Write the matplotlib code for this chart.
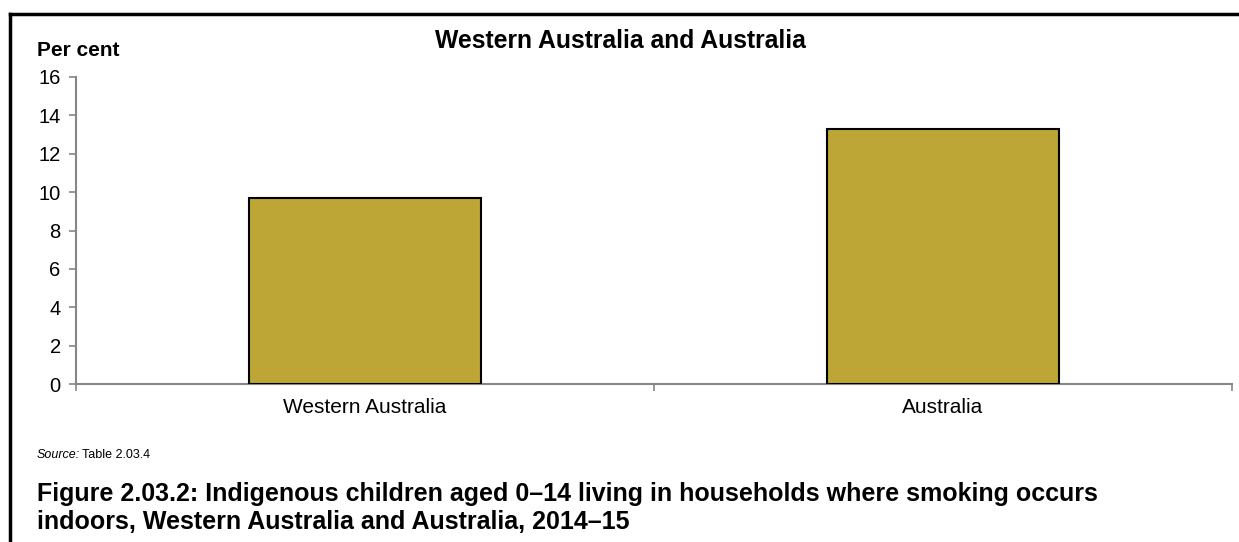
import matplotlib
matplotlib.use("Agg")
import matplotlib.pyplot as plt
from matplotlib.lines import Line2D

plt.rcParams['font.family'] = ['Liberation Sans', 'DejaVu Sans']

categories = ["Western Australia", "Australia"]
values = [9.7, 13.3]
yticks = [0, 2, 4, 6, 8, 10, 12, 14, 16]

W, H = 1239, 542
fig = plt.figure(figsize=(W / 100, H / 100), dpi=100)
ax = fig.add_axes([76 / W, 1 - 384 / H, (1232 - 76) / W, (384 - 77) / H])

x = list(range(len(categories)))
ax.bar(x, values, width=0.4, color="#BDA635", edgecolor="black", linewidth=1.5, zorder=3)
ax.set_xlim(-0.5, len(categories) - 0.5)
ax.set_ylim(0, 16)
ax.set_yticks(yticks)
ax.set_yticklabels([str(t) for t in yticks], fontsize=14.5)
ax.set_xticks(x)
ax.set_xticklabels(categories, fontsize=15)
ax.tick_params(axis='x', length=0, pad=10)
ax.tick_params(axis='y', length=5, color="#868686", width=1.2, pad=6)
ax.set_xticks([-0.5, 0.5, 1.5], minor=True)
ax.tick_params(axis='x', which='minor', length=5, color="#868686", width=1.2)
for s in ["top", "right"]:
    ax.spines[s].set_visible(False)
for s in ["left", "bottom"]:
    ax.spines[s].set_color("#868686")
    ax.spines[s].set_linewidth(1.5)

fig.text(620 / W, 1 - 41 / H, "Western Australia and Australia", ha="center", va="center",
         fontsize=17.8, fontweight="bold")
fig.text(37 / W, 1 - 50 / H, "Per cent", ha="left", va="center", fontsize=15, fontweight="bold")
src = fig.text(37 / W, 1 - 455 / H, "Source:", ha="left", va="center", fontsize=9, style="italic")
fig.canvas.draw()
bb = src.get_window_extent()
fig.text((bb.x1 + 2) / W, 1 - 455 / H, "Table 2.03.4", ha="left", va="center", fontsize=9)
fig.text(37 / W, 1 - 494 / H,
         "Figure 2.03.2: Indigenous children aged 0\u201314 living in households where smoking occurs",
         ha="left", va="center", fontsize=18, fontweight="bold")
fig.text(37 / W, 1 - 522 / H, "indoors, Western Australia and Australia, 2014\u201315",
         ha="left", va="center", fontsize=18, fontweight="bold")

fig.add_artist(Line2D([10 / W, 1], [1 - 14 / H, 1 - 14 / H], color="black", linewidth=2.5,
                      transform=fig.transFigure))
fig.add_artist(Line2D([10 / W, 10 / W], [0, 1 - 14 / H], color="black", linewidth=2.5,
                      transform=fig.transFigure))

fig.savefig("out.png", dpi=100)
